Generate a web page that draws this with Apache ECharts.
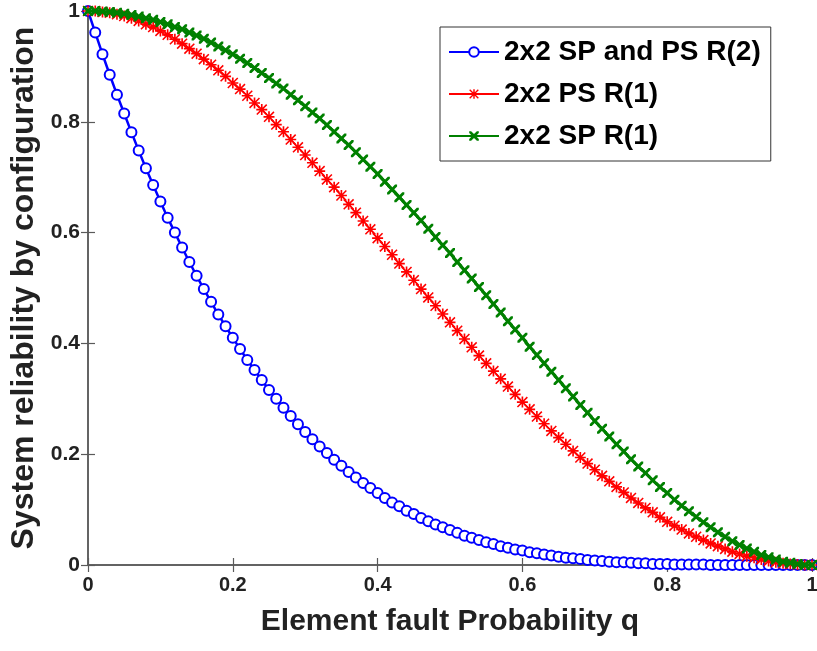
<!DOCTYPE html>
<html>
<head>
<meta charset="utf-8">
<script src="https://cdn.jsdelivr.net/npm/echarts@6/dist/echarts.min.js"></script>
<style>
  html, body { margin: 0; padding: 0; background: #fff; }
  #chart { width: 817px; height: 651px; }
</style>
</head>
<body>
<div id="chart"></div>
<script>
// element fault probability q
const qValues = [
  0, 0.01, 0.02, 0.03, 0.04, 0.05, 0.06, 0.07, 0.08, 0.09,
  0.1, 0.11, 0.12, 0.13, 0.14, 0.15, 0.16, 0.17, 0.18, 0.19,
  0.2, 0.21, 0.22, 0.23, 0.24, 0.25, 0.26, 0.27, 0.28, 0.29,
  0.3, 0.31, 0.32, 0.33, 0.34, 0.35, 0.36, 0.37, 0.38, 0.39,
  0.4, 0.41, 0.42, 0.43, 0.44, 0.45, 0.46, 0.47, 0.48, 0.49,
  0.5, 0.51, 0.52, 0.53, 0.54, 0.55, 0.56, 0.57, 0.58, 0.59,
  0.6, 0.61, 0.62, 0.63, 0.64, 0.65, 0.66, 0.67, 0.68, 0.69,
  0.7, 0.71, 0.72, 0.73, 0.74, 0.75, 0.76, 0.77, 0.78, 0.79,
  0.8, 0.81, 0.82, 0.83, 0.84, 0.85, 0.86, 0.87, 0.88, 0.89,
  0.9, 0.91, 0.92, 0.93, 0.94, 0.95, 0.96, 0.97, 0.98, 0.99,
  1
];

// 2x2 SP and PS R(2)
const spPsR2 = [
  1, 0.961, 0.922, 0.885, 0.849, 0.815, 0.781, 0.748, 0.716, 0.686,
  0.656, 0.627, 0.600, 0.573, 0.547, 0.522, 0.498, 0.475, 0.452, 0.431,
  0.410, 0.390, 0.370, 0.352, 0.334, 0.316, 0.300, 0.284, 0.269, 0.254,
  0.240, 0.227, 0.214, 0.202, 0.190, 0.179, 0.168, 0.158, 0.148, 0.139,
  0.130, 0.121, 0.113, 0.106, 0.098, 0.092, 0.085, 0.079, 0.073, 0.068,
  0.063, 0.058, 0.053, 0.049, 0.045, 0.041, 0.038, 0.034, 0.031, 0.028,
  0.026, 0.023, 0.021, 0.019, 0.017, 0.015, 0.013, 0.012, 0.011, 0.009,
  0.008, 0.007, 0.006, 0.005, 0.005, 0.004, 0.003, 0.003, 0.002, 0.002,
  0.002, 0.001, 0.001, 0.001, 0.001, 0.001, 0, 0, 0, 0,
  0, 0, 0, 0, 0, 0, 0, 0, 0, 0,
  0
];

// 2x2 PS R(1)
const psR1 = [
  1, 1.000, 0.998, 0.997, 0.994, 0.991, 0.987, 0.982, 0.976, 0.971,
  0.964, 0.957, 0.949, 0.941, 0.932, 0.923, 0.913, 0.903, 0.893, 0.882,
  0.870, 0.859, 0.847, 0.834, 0.822, 0.809, 0.795, 0.782, 0.768, 0.754,
  0.740, 0.726, 0.711, 0.696, 0.682, 0.667, 0.651, 0.636, 0.621, 0.606,
  0.590, 0.575, 0.560, 0.544, 0.529, 0.514, 0.498, 0.483, 0.468, 0.453,
  0.438, 0.423, 0.408, 0.393, 0.378, 0.364, 0.350, 0.336, 0.322, 0.308,
  0.294, 0.281, 0.268, 0.255, 0.242, 0.230, 0.218, 0.206, 0.194, 0.183,
  0.172, 0.161, 0.151, 0.141, 0.131, 0.121, 0.112, 0.103, 0.095, 0.086,
  0.078, 0.071, 0.064, 0.057, 0.051, 0.045, 0.039, 0.034, 0.029, 0.024,
  0.020, 0.016, 0.013, 0.010, 0.007, 0.005, 0.003, 0.002, 0.001, 0.000,
  0
];

// 2x2 SP R(1)
const spR1 = [
  1, 1.000, 0.999, 0.998, 0.997, 0.995, 0.993, 0.990, 0.987, 0.984,
  0.980, 0.976, 0.971, 0.967, 0.961, 0.956, 0.950, 0.943, 0.936, 0.929,
  0.922, 0.914, 0.906, 0.897, 0.888, 0.879, 0.869, 0.860, 0.849, 0.839,
  0.828, 0.817, 0.806, 0.794, 0.782, 0.770, 0.758, 0.745, 0.732, 0.719,
  0.706, 0.692, 0.678, 0.664, 0.650, 0.636, 0.622, 0.607, 0.592, 0.577,
  0.563, 0.547, 0.532, 0.517, 0.502, 0.487, 0.471, 0.456, 0.440, 0.425,
  0.410, 0.394, 0.379, 0.364, 0.349, 0.334, 0.319, 0.304, 0.289, 0.275,
  0.260, 0.246, 0.232, 0.218, 0.205, 0.191, 0.178, 0.166, 0.153, 0.141,
  0.130, 0.118, 0.107, 0.097, 0.087, 0.077, 0.068, 0.059, 0.051, 0.043,
  0.036, 0.030, 0.024, 0.018, 0.014, 0.010, 0.006, 0.004, 0.002, 0.000,
  0
];

const tickValues = [0, 0.2, 0.4, 0.6, 0.8, 1];

const FONT = "'Liberation Sans', Arial, sans-serif";

// marker shapes like matlab '*' and 'x'
const asteriskPath = "path://M8.5,0 L11.5,0 L11.5,20 L8.5,20 Z M0,8.5 L20,8.5 L20,11.5 L0,11.5 Z M2,0 L20,18 L18,20 L0,2 Z M18,0 L20,2 L2,20 L0,18 Z";
const crossPath = "path://M0,0 L4,0 L10,6 L16,0 L20,0 L20,4 L14,10 L20,16 L20,20 L16,20 L10,14 L4,20 L0,20 L0,16 L6,10 L0,4 Z";

const pairs = (ys) => qValues.map((q, i) => [q, ys[i]]);

const chart = echarts.init(document.getElementById("chart"), null, { renderer: "canvas" });

const axisLine = { show: true, lineStyle: { color: "#5a5a5a", width: 1.5 } };
const axisTick = { show: true, inside: true, length: 7, lineStyle: { color: "#5a5a5a", width: 1.2 } };

chart.setOption({
  backgroundColor: "#fff",
  animation: false,
  grid: { left: 88, right: 5, top: 11, bottom: 86, outerBoundsMode: "none" },
  legend: {
    orient: "vertical",
    left: 440,
    top: 27,
    width: 360,
    padding: [10, 10, 10, 8],
    itemGap: 12,
    itemWidth: 50,
    itemHeight: 12,
    backgroundColor: "#fff",
    borderColor: "#333",
    borderWidth: 1,
    borderRadius: 0,
    textStyle: { fontFamily: FONT, fontWeight: "bold", fontSize: 28, color: "#000", lineHeight: 30 },
    data: ["2x2 SP and PS R(2)", "2x2 PS R(1)", "2x2 SP R(1)"]
  },
  xAxis: [
    {
      type: "value", min: 0, max: 1, interval: 0.2,
      name: "Element fault Probability q",
      nameLocation: "middle", nameGap: 42,
      nameTextStyle: { fontFamily: FONT, fontWeight: "bold", fontSize: 30, color: "#222" },
      axisLine, axisTick,
      axisLabel: {
        fontFamily: FONT, fontWeight: "bold", fontSize: 20, color: "#222", margin: 10,
        formatter: (v) => (tickValues.includes(v) ? String(v) : "")
      },
      splitLine: { show: false }
    },
    {
      type: "value", min: 0, max: 1, interval: 0.2, position: "top",
      axisLine, axisTick, axisLabel: { show: false }, splitLine: { show: false }
    }
  ],
  yAxis: [
    {
      type: "value", min: 0, max: 1, interval: 0.2,
      name: "System reliability by configuration",
      nameLocation: "middle", nameGap: 46,
      nameTextStyle: { fontFamily: FONT, fontWeight: "bold", fontSize: 32, color: "#222" },
      axisLine, axisTick,
      axisLabel: { fontFamily: FONT, fontWeight: "bold", fontSize: 21, color: "#222", margin: 8 },
      splitLine: { show: false }
    },
    {
      type: "value", min: 0, max: 1, interval: 0.2, position: "right",
      axisLine, axisTick, axisLabel: { show: false }, splitLine: { show: false }
    }
  ],
  series: [
    {
      name: "2x2 SP and PS R(2)",
      type: "line",
      data: pairs(spPsR2),
      symbol: "emptyCircle",
      symbolSize: 10,
      showAllSymbol: true,
      color: "#0000ff",
      lineStyle: { width: 2.5, color: "#0000ff" },
      itemStyle: { color: "#0000ff", borderWidth: 2.4 },
      z: 2
    },
    {
      name: "2x2 PS R(1)",
      type: "line",
      data: pairs(psR1),
      symbol: asteriskPath,
      symbolSize: 11,
      showAllSymbol: true,
      color: "#ff0000",
      lineStyle: { width: 1.2, color: "#ff0000" },
      itemStyle: { color: "#ff0000", borderWidth: 0 },
      z: 3
    },
    {
      name: "2x2 SP R(1)",
      type: "line",
      data: pairs(spR1),
      symbol: crossPath,
      symbolSize: 10,
      showAllSymbol: true,
      color: "#008000",
      lineStyle: { width: 3, color: "#008000" },
      itemStyle: { color: "#008000", borderWidth: 0 },
      z: 4
    }
  ]
});
</script>
</body>
</html>
